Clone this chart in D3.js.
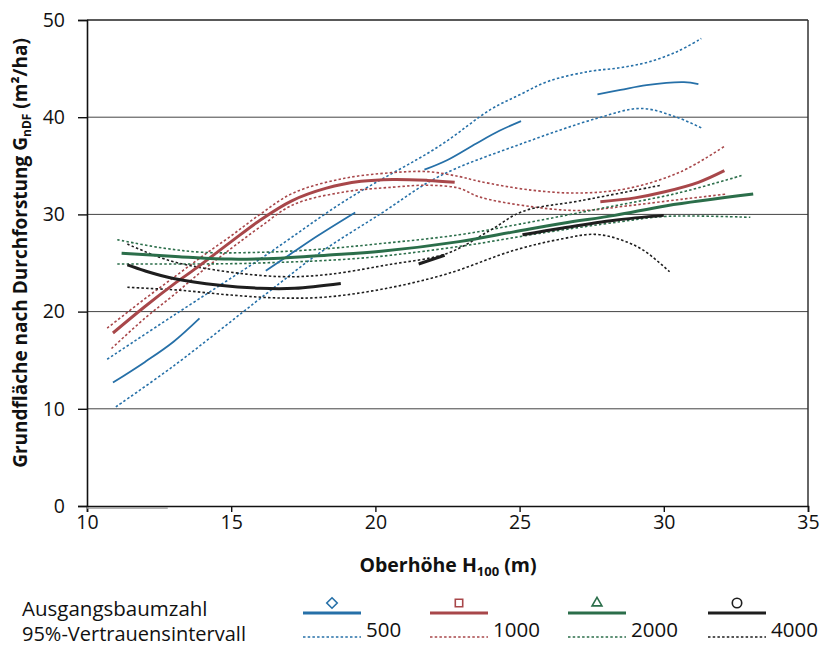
<!DOCTYPE html>
<html>
<head>
<meta charset="utf-8">
<script src="https://cdn.jsdelivr.net/npm/d3@7"></script>
<style>
  body { margin: 0; background: #fff; }
  text { font-family: "Open Sans", "Noto Sans", sans-serif; fill: #111; }
</style>
</head>
<body>
<script>
// Ausgangsbaumzahl (trees/ha) groups
var groups = ["500", "1000", "2000", "4000"];
var colors = ["#2670a8", "#a8474a", "#2b6e4a", "#1e1e1e"];

// fitted curves [H100, G], may be split in pieces
var fit500 = [
  [[10.9,12.7],[12,14.8],[13,16.9],[13.9,19.3]],
  [[16.2,24.2],[17,25.8],[18,27.8],[19.3,30.2]],
  [[21.7,34.6],[22.5,35.6],[23.5,37.3],[24.3,38.6],[25.05,39.6]],
  [[27.7,42.35],[28.5,42.8],[29.4,43.3],[30.7,43.6],[31.2,43.4]]
];
var fit1000 = [
  [[10.9,17.8],[12,20.5],[13,22.8],[13.8,24.5],[15,27.2],[16,29.4],[17.1,31.4],[18.3,32.7],[19.5,33.4],[20.6,33.6],[21.8,33.5],[22.75,33.3]],
  [[27.8,31.3],[29,31.7],[30,32.3],[31.2,33.3],[32.1,34.5]]
];
var fit2000 = [
  [[11.2,26.0],[13.2,25.65],[15,25.4],[16.7,25.5],[18.3,25.8],[20.2,26.2],[22.9,27.2],[24.8,28.2],[26.5,29.1],[28.3,29.9],[30.1,30.9],[33.1,32.1]]
];
var fit4000 = [
  [[11.4,24.8],[12,24.2],[13,23.4],[14.6,22.7],[16,22.4],[17.2,22.4],[18.8,22.9]],
  [[21.5,24.9],[22.4,25.8]],
  [[25.1,27.9],[26.5,28.6],[28.3,29.4],[30.0,29.9]]
];

// 95% confidence bands, upper and lower
var ci500 = [
  [[10.7,15.1],[13,19.6],[16.2,25.8],[19,31.5],[22.2,37.0],[24,40.8],[25,42.3],[26,43.7],[27.4,44.7],[28.5,45.1],[29.5,45.7],[30.5,46.8],[31.3,48.1]],
  [[11.0,10.2],[13,14.4],[16.2,21.8],[18,25.9],[20.2,30.1],[22.2,33.9],[25.1,37.3],[27.7,39.9],[29.2,40.9],[30.4,40.05],[31.3,38.9]]
];
var ci1000 = [
  [[10.7,18.3],[12,21.3],[13,23.5],[14,25.7],[15,27.8],[16,30.0],[17.15,32.2],[18.9,33.7],[20.6,34.3],[21.8,34.4],[22.9,33.9],[23.6,33.4],[25.4,32.5],[27.1,32.2],[28.8,32.7],[30.6,34.4],[32.1,37.0]],
  [[10.85,16.2],[12,19.3],[13,21.7],[14,24.2],[15,26.5],[16,28.7],[17.15,31.0],[18.9,32.3],[20.6,32.8],[21.8,33.0],[22.9,32.7],[23.6,31.8],[25.4,30.8],[27.1,30.4],[28.8,30.9],[30.6,31.55],[32.2,32.1]]
];
var ci2000 = [
  [[11.05,27.4],[12.5,26.6],[14,26.1],[16,26.1],[18,26.4],[20.2,27.0],[22.9,27.9],[25,29.0],[27.8,30.6],[30.5,32.2],[32.7,34.0]],
  [[11.05,24.9],[14,24.9],[16,25.0],[19.5,25.5],[22.9,26.7],[25.7,28.05],[28.5,29.25],[30.1,29.8],[33,29.7]]
];
var ci4000 = [
  [[11.4,26.95],[12.8,25.3],[14.4,24.3],[16.7,23.6],[18.3,23.8],[20.4,24.8],[22.5,26.0],[24,28.4],[25.1,30.3],[27.1,31.4],[29.9,33.0]],
  [[11.4,22.5],[13.2,22.2],[15,21.7],[16.7,21.4],[18.3,21.5],[20.4,22.4],[22.5,23.9],[24.8,26.3],[26.5,27.5],[27.6,27.95],[28.5,27.4],[29.3,26.3],[30.2,24.1]]
];

var fits = [fit500, fit1000, fit2000, fit4000];
var cis = [ci500, ci1000, ci2000, ci4000];
var fitWidths = [1.8, 3, 3, 3];
var markers = ["diamond", "square", "triangle", "circle"];

var xTicks = [10, 15, 20, 25, 30, 35];
var yTicks = [0, 10, 20, 30, 40, 50];
var baseStub = [[10, 0], [12.8, 0]];

var margin = {top: 20, right: 14, bottom: 141, left: 87},
	width = 822 - margin.left - margin.right,
	height = 647 - margin.top - margin.bottom;

var x = d3.scaleLinear().domain([10, 35]).range([0, width]);
var y = d3.scaleLinear().domain([0, 50]).range([height, 0]);

var svg = d3.select("body").append("svg")
	.attr("width", 822)
	.attr("height", 647);

var g = svg.append("g")
	.attr("transform", "translate(" + margin.left + "," + margin.top + ")");

// grid lines
g.selectAll(".grid")
	.data(yTicks.filter(function(d) { return d > 0 && d < 50; }))
	.enter().append("line")
	.attr("x1", 0).attr("x2", width)
	.attr("y1", function(d) { return y(d); })
	.attr("y2", function(d) { return y(d); })
	.attr("stroke", "#444").attr("stroke-width", 1);

// frame top / right
g.append("line").attr("x1", 0).attr("x2", width).attr("y1", 0).attr("y2", 0)
	.attr("stroke", "#222").attr("stroke-width", 1.6);
g.append("line").attr("x1", width).attr("x2", width).attr("y1", 0).attr("y2", height)
	.attr("stroke", "#333").attr("stroke-width", 1.5);

// axes
var xAxis = g.append("g")
	.attr("transform", "translate(0," + height + ")")
	.call(d3.axisBottom(x).tickValues(xTicks).tickSize(6).tickPadding(3));
var yAxis = g.append("g")
	.call(d3.axisLeft(y).tickValues(yTicks).tickSize(9).tickPadding(13));

[xAxis, yAxis].forEach(function(a) {
	a.select(".domain").attr("stroke", "#111").attr("stroke-width", 1.6);
	a.selectAll(".tick line").attr("stroke", "#111").attr("stroke-width", 1.4);
	a.selectAll(".tick text")
		.attr("font-family", "'Open Sans', sans-serif")
		.attr("font-size", 19.5).attr("fill", "#111");
});

// small grey stub under the axis
var line = d3.line()
	.x(function(d) { return x(d[0]); })
	.y(function(d) { return y(d[1]); })
	.curve(d3.curveCatmullRom.alpha(0.5));

g.append("path")
	.attr("d", line(baseStub))
	.attr("transform", "translate(0,2)")
	.attr("fill", "none").attr("stroke", "#9a9a9a").attr("stroke-width", 1.5);

// confidence bands
cis.forEach(function(band, i) {
	g.selectAll(".ci" + i)
		.data(band)
		.enter().append("path")
		.attr("d", line)
		.attr("fill", "none")
		.attr("stroke", colors[i])
		.attr("stroke-width", 1.6)
		.attr("stroke-dasharray", "2.5,2.2");
});

// fitted curves
fits.forEach(function(pieces, i) {
	g.selectAll(".fit" + i)
		.data(pieces)
		.enter().append("path")
		.attr("d", line)
		.attr("fill", "none")
		.attr("stroke", colors[i])
		.attr("stroke-width", fitWidths[i]);
});

// axis titles
svg.append("text")
	.attr("x", 448).attr("y", 572)
	.attr("text-anchor", "middle")
	.attr("font-size", 19.5).attr("font-weight", "bold")
	.call(function(t) {
		t.append("tspan").text("Oberhöhe H");
		t.append("tspan").attr("font-size", 13).attr("dy", 4).text("100");
		t.append("tspan").attr("dy", -4).text(" (m)");
	});

svg.append("text")
	.attr("transform", "translate(27,253) rotate(-90)")
	.attr("text-anchor", "middle")
	.attr("font-size", 19).attr("font-weight", "bold")
	.call(function(t) {
		t.append("tspan").text("Grundfläche nach Durchforstung G");
		t.append("tspan").attr("font-size", 12).attr("dy", 4).text("nDF");
		t.append("tspan").attr("dy", -4).text(" (m²/ha)");
	});

// legend
svg.append("text").attr("x", 22).attr("y", 616).attr("font-size", 20.5).text("Ausgangsbaumzahl");
svg.append("text").attr("x", 22).attr("y", 641).attr("font-size", 20).text("95%-Vertrauensintervall");

var legX = [303, 430, 568, 708];
var legend = svg.selectAll(".leg")
	.data(groups)
	.enter().append("g")
	.attr("transform", function(d, i) { return "translate(" + legX[i] + ",0)"; });

legend.append("line")
	.attr("x1", 0).attr("x2", 58).attr("y1", 613).attr("y2", 613)
	.attr("stroke", function(d, i) { return colors[i]; })
	.attr("stroke-width", 3);
legend.append("line")
	.attr("x1", 0).attr("x2", 58).attr("y1", 637).attr("y2", 637)
	.attr("stroke", function(d, i) { return colors[i]; })
	.attr("stroke-width", 1.6)
	.attr("stroke-dasharray", "2.5,2.2");
legend.append("text")
	.attr("x", 63).attr("y", 637)
	.attr("font-size", 20.5)
	.text(function(d) { return d; });

var symbolType = {
	diamond: d3.symbolDiamond2, square: d3.symbolSquare2,
	triangle: d3.symbolTriangle2, circle: d3.symbolCircle
};
legend.append("path")
	.attr("transform", "translate(29,603)")
	.attr("d", function(d, i) { return d3.symbol(symbolType[markers[i]], 70)(); })
	.attr("fill", "none")
	.attr("stroke", function(d, i) { return colors[i]; })
	.attr("stroke-width", 1.6);
</script>
</body>
</html>
